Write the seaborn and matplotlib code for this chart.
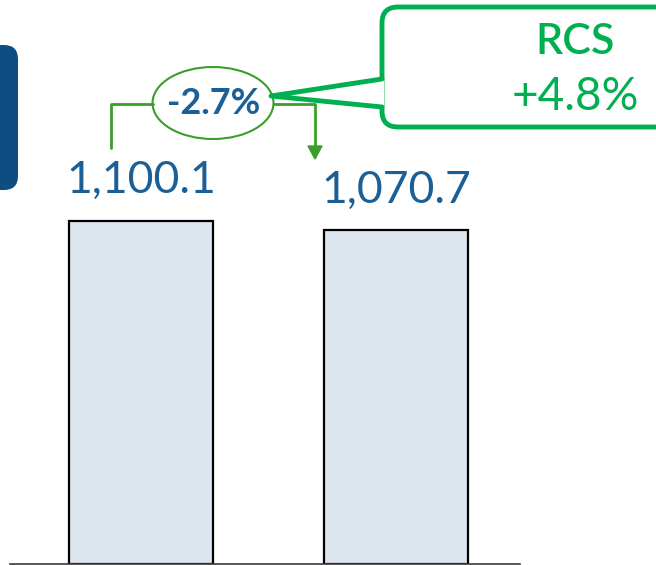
import matplotlib.pyplot as plt
import seaborn as sns
import pandas as pd
from matplotlib.patches import FancyBboxPatch, Ellipse, Polygon

# data
periods = ['P1', 'P2']
values = [1100.1, 1070.7]
value_labels = ['1,100.1', '1,070.7']
change_label = '-2.7%'
callout_lines = ['RCS', '+4.8%']

sns.set_theme(style='white')
plt.rcParams['font.family'] = ['Lato', 'DejaVu Sans']

df = pd.DataFrame({'period': periods, 'value': values})

fig = plt.figure(figsize=(6.56, 5.65), dpi=100)
ax = fig.add_axes([10 / 656, 1.5 / 565, 510 / 656, 563.5 / 565])
sns.barplot(data=df, x='period', y='value', color='#dde5ef', saturation=1,
            width=0.565, edgecolor='black', linewidth=1.6, ax=ax)
ax.set_xlim(-0.514, 1.486)
ax.set_ylim(0, 1808)
ax.set_xlabel(''); ax.set_ylabel('')
ax.set_xticks([]); ax.set_yticks([])
for s in ['top', 'right', 'left']:
    ax.spines[s].set_visible(False)
ax.spines['bottom'].set_color('#3a3a3a')
ax.spines['bottom'].set_linewidth(1.2)

blue = '#1a5f96'
for i, (v, lab) in enumerate(zip(values, value_labels)):
    ax.text(i, v + 62, lab, ha='center', va='bottom', fontsize=32, color=blue)

# overlay in pixel coordinates for the annotation shapes
ov = fig.add_axes([0, 0, 1, 1], facecolor='none')
ov.set_xlim(0, 656); ov.set_ylim(565, 0); ov.axis('off')

# cut-off dark blue tab on the left
ov.add_patch(FancyBboxPatch((-30, 45), 48, 145, boxstyle='round,pad=0,rounding_size=14',
                            facecolor='#0d4d82', edgecolor='none'))

g = '#3a9f2a'
ov.plot([111, 111, 153], [148, 104, 104], color=g, lw=2)
ov.plot([274, 315, 315], [104, 104, 146], color=g, lw=2)
ov.add_patch(Polygon([[308, 146], [322, 146], [315, 159]], closed=True, facecolor=g, edgecolor=g))
ov.add_patch(Ellipse((213, 103), 121, 72, facecolor='white', edgecolor=g, lw=1.5))
ov.text(214, 104, change_label, ha='center', va='center', fontsize=26, fontweight='bold',
        color=blue)

# callout
cg = '#00b050'
ov.add_patch(FancyBboxPatch((382, 7), 300, 120, boxstyle='round,pad=0,rounding_size=16',
                            facecolor='white', edgecolor=cg, lw=3.5))
ov.add_patch(Polygon([[384, 79], [271, 96], [384, 107]], closed=True, facecolor='white',
                     edgecolor='none'))
ov.plot([382, 271, 382], [79, 96, 107], color=cg, lw=3.5, solid_capstyle='round')
ov.text(575, 42, callout_lines[0], ha='center', va='center', fontsize=31, color=cg,
        fontweight='semibold')
ov.text(575, 97, callout_lines[1], ha='center', va='center', fontsize=33, color=cg)

fig.savefig('out.png', dpi=100)
